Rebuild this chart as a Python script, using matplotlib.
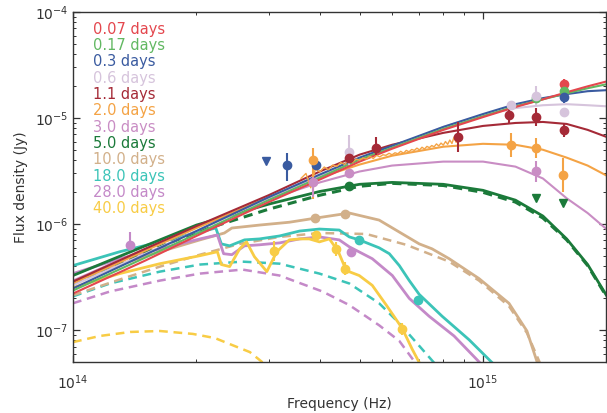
import numpy as np
import matplotlib
matplotlib.use('Agg')
import matplotlib.pyplot as plt
from matplotlib.ticker import NullFormatter

# ---------------- data (frequency in 1e14 Hz, flux in 1e-6 Jy) ----------------
labels = ['0.07 days', '0.17 days', '0.3 days', '0.6 days', '1.1 days', '2.0 days',
          '3.0 days', '5.0 days', '10.0 days', '18.0 days', '28.0 days', '40.0 days']
colors = ['#e4474e', '#62b862', '#3a5ba0', '#d6c4dc', '#a52a37', '#f4a345',
          '#c98dc4', '#1b7a3a', '#d2b08a', '#3cc4b8', '#c489c8', '#f8cc45']

nu_grid = [1.0, 1.5, 2.0, 3.0, 4.0, 5.0, 6.0, 8.0, 10.0, 12.0, 14.0, 16.0, 18.0, 20.0]
bb_007 = [0.221, 0.452, 0.772, 1.61, 2.63, 3.88, 5.13, 7.72, 10.2, 12.7, 15.0, 17.5, 19.9, 22.1]
bb_017 = [0.236, 0.482, 0.806, 1.68, 2.75, 4.05, 5.24, 7.89, 10.4, 12.9, 15.0, 17.1, 19.1, 20.8]
bb_03 = [0.247, 0.514, 0.859, 1.79, 2.93, 4.23, 5.47, 8.24, 10.9, 13.5, 15.4, 16.8, 17.9, 18.3]
bb_06 = [0.264, 0.525, 0.859, 1.75, 2.81, 4.05, 5.24, 8.24, 10.7, 12.4, 13.2, 13.5, 13.2, 12.9]
bb_11 = [0.287, 0.584, 0.957, 1.87, 3.13, 4.51, 5.59, 7.24, 8.42, 8.98, 9.18, 8.79, 7.73, 6.64]
bb_20 = [0.275, 0.560, 0.917, 1.79, 2.75, 3.64, 4.41, 5.36, 5.71, 5.59, 5.02, 4.23, 3.56, 2.87]
bb_30 = [0.293, 0.584, 0.937, 1.71, 2.47, 3.13, 3.56, 3.88, 3.88, 3.48, 2.69, 1.75, 1.27, 0.897]
bb_50 = [0.327, 0.623, 0.978, 1.54, 2.03, 2.37, 2.47, 2.37, 2.08, 1.68, 1.19, 0.724, 0.415, 0.213]
bb_50_dash = [0.275, 0.536, 0.841, 1.38, 1.87, 2.27, 2.42, 2.31, 1.99, 1.61, 1.14, 0.709, 0.406, 0.208]

tan_nu = [1.00, 1.30, 1.63, 2.04, 2.34, 2.44, 2.85, 3.37, 3.92, 4.72, 5.58, 6.99, 7.51, 8.27, 9.78, 11.57, 12.8, 13.6]
tan_f = [0.287, 0.415, 0.548, 0.709, 0.823, 0.917, 0.978, 1.04, 1.14, 1.27, 1.09, 0.650, 0.584, 0.471, 0.306, 0.179, 0.098, 0.048]
tan_d_nu = [1.00, 1.30, 1.63, 2.04, 2.55, 3.19, 3.99, 5.19, 6.50, 8.27, 9.78, 11.57, 12.8, 13.8]
tan_d_f = [0.213, 0.300, 0.397, 0.514, 0.650, 0.756, 0.823, 0.806, 0.637, 0.442, 0.293, 0.168, 0.094, 0.048]

teal_nu = [1.00, 1.30, 1.63, 2.04, 2.23, 2.30, 2.41, 2.62, 2.85, 3.19, 3.57, 3.99, 4.46, 4.72, 4.99,
           5.58, 5.91, 6.25, 6.61, 6.99, 7.95, 9.25, 10.6]
teal_f = [0.406, 0.548, 0.679, 0.841, 0.917, 0.650, 0.623, 0.709, 0.724, 0.772, 0.859, 0.897, 0.878,
          0.756, 0.709, 0.597, 0.525, 0.406, 0.293, 0.217, 0.135, 0.081, 0.048]
teal_d_nu = [1.00, 1.23, 1.63, 2.04, 2.59, 3.19, 3.99, 4.72, 5.58, 6.25, 6.99, 7.64]
teal_d_f = [0.208, 0.275, 0.356, 0.415, 0.442, 0.423, 0.341, 0.275, 0.179, 0.116, 0.071, 0.048]

mauve_nu = [1.00, 1.30, 1.63, 2.04, 2.25, 2.33, 2.44, 2.62, 2.85, 3.19, 3.57, 3.99, 4.46, 4.72,
            5.37, 6.01, 6.61, 7.39, 8.50, 9.89]
mauve_f = [0.341, 0.471, 0.584, 0.724, 0.789, 0.525, 0.514, 0.623, 0.637, 0.664, 0.724, 0.756,
           0.709, 0.610, 0.471, 0.327, 0.199, 0.135, 0.088, 0.048]
mauve_d_nu = [1.00, 1.23, 1.63, 2.04, 2.59, 3.19, 4.06, 4.72, 5.58, 6.25, 6.87]
mauve_d_f = [0.179, 0.231, 0.293, 0.341, 0.372, 0.327, 0.231, 0.172, 0.111, 0.079, 0.048]

yellow_nu = [1.00, 1.30, 1.63, 2.04, 2.25, 2.30, 2.41, 2.55, 2.65, 2.77, 2.97, 3.14, 3.37, 3.57,
             3.77, 3.99, 4.22, 4.39, 4.46, 4.64, 4.99, 5.37, 5.81, 6.35, 6.72, 7.02]
yellow_f = [0.252, 0.341, 0.423, 0.503, 0.548, 0.415, 0.397, 0.584, 0.679, 0.492, 0.356, 0.548,
            0.709, 0.724, 0.724, 0.679, 0.724, 0.584, 0.525, 0.364, 0.327, 0.264, 0.172, 0.104,
            0.066, 0.048]
yellow_d_nu = [1.00, 1.163, 1.38, 1.63, 1.96, 2.22, 2.45, 2.70, 2.93]
yellow_d_f = [0.077, 0.088, 0.096, 0.098, 0.092, 0.084, 0.072, 0.062, 0.048]

spec_nu = [3.6, 3.7, 3.8, 3.9, 4.0, 4.1, 4.2, 4.3, 4.4, 4.5, 4.6, 4.7, 4.8, 4.9, 5.0, 5.1, 5.2,
           5.3, 5.4, 5.5, 5.6, 5.7, 5.8, 5.9, 6.0, 6.1, 6.2, 6.3, 6.4, 6.5, 6.6, 6.7, 6.8, 6.9,
           7.0, 7.1, 7.2, 7.3, 7.4, 7.5, 7.6, 7.7, 7.8, 7.9, 8.0, 8.1, 8.2, 8.3, 8.4, 8.5, 8.6, 8.7]
spec_f = [2.7, 3.0, 2.2, 3.3, 3.1, 3.45, 3.25, 3.6, 3.5, 3.8, 3.65, 4.0, 3.8, 4.1, 4.0, 4.2,
          4.1, 4.35, 4.15, 4.45, 4.3, 4.5, 4.45, 4.65, 4.5, 4.7, 4.6, 4.85, 4.65, 4.95, 4.8,
          5.05, 4.95, 5.2, 5.0, 5.3, 5.1, 5.4, 5.25, 5.5, 5.35, 5.7, 5.45, 5.8, 5.55, 6.0,
          5.65, 6.2, 5.75, 6.6, 5.9, 6.0]

# photometric points: nu, flux, lower bound, upper bound
pts = {
    0: ([15.8], [20.8], [18.5], [23.5]),
    1: ([13.46, 15.8], [15.4, 17.9], [15.4, 17.9], [15.4, 17.9]),
    2: ([3.33, 3.92, 15.8], [3.64, 3.64, 15.7], [2.52, 3.3, 14.0], [4.71, 4.0, 17.5]),
    3: ([4.72, 11.7, 13.46, 15.8], [4.81, 13.2, 16.1, 11.4], [3.64, 12.0, 12.9, 10.5], [6.9, 14.5, 19.9, 12.5]),
    4: ([4.72, 5.49, 8.71, 11.6, 13.46, 15.8], [4.23, 5.24, 6.64, 10.7, 10.2, 7.73],
        [3.8, 4.5, 4.81, 9.0, 8.4, 6.6], [4.7, 6.6, 9.18, 12.7, 12.3, 9.0]),
    5: ([3.84, 11.7, 13.46, 15.7], [4.05, 5.59, 5.24, 2.93], [1.71, 4.3, 4.2, 2.0], [5.24, 7.2, 6.5, 4.2]),
    6: ([3.84, 4.72, 13.46], [2.47, 3.06, 3.13], [1.79, 3.06, 2.5], [2.8, 3.06, 3.9]),
    7: ([4.72], [2.27], [2.27], [2.27]),
    8: ([3.90, 4.62], [1.14, 1.24], [1.14, 1.24], [1.14, 1.24]),
    9: ([4.99, 6.95], [0.709, 0.191], [0.709, 0.191], [0.709, 0.191]),
    10: ([1.38, 4.77], [0.637, 0.548], [0.60, 0.548], [0.84, 0.548]),
    11: ([3.10, 3.92, 4.39, 4.62, 6.35], [0.560, 0.789, 0.584, 0.380, 0.102],
         [0.452, 0.72, 0.50, 0.33, 0.09], [0.695, 0.86, 0.68, 0.44, 0.116]),
}
limits = {
    2: ([2.95], [3.97]),
    7: ([13.46, 15.7], [1.75, 1.58]),
}

# ---------------- plotting ----------------
NU = 1e14
FL = 1e-6
fig = plt.figure(figsize=(6.07, 4.13), dpi=100)
ax = fig.add_axes([0.1203, 0.1235, 0.8787, 0.8475])
ax.set_xscale('log')
ax.set_yscale('log')


def arr(v, s):
    return np.asarray(v) * s


# late epochs (drawn first, below)
dash = (3.5, 2.3)
ax.plot(arr(yellow_d_nu, NU), arr(yellow_d_f, FL), color=colors[11], lw=1.8, dashes=dash)
ax.plot(arr(mauve_d_nu, NU), arr(mauve_d_f, FL), color=colors[10], lw=1.8, dashes=dash)
ax.plot(arr(teal_d_nu, NU), arr(teal_d_f, FL), color=colors[9], lw=1.8, dashes=dash)
ax.plot(arr(tan_d_nu, NU), arr(tan_d_f, FL), color=colors[8], lw=1.8, dashes=dash)
ax.plot(arr(tan_nu, NU), arr(tan_f, FL), color=colors[8], lw=2.0)
ax.plot(arr(teal_nu, NU), arr(teal_f, FL), color=colors[9], lw=2.0)
ax.plot(arr(mauve_nu, NU), arr(mauve_f, FL), color=colors[10], lw=2.0)
ax.plot(arr(yellow_nu, NU), arr(yellow_f, FL), color=colors[11], lw=2.0)

# early epochs
early = [bb_007, bb_017, bb_03, bb_06, bb_11, bb_20, bb_30, bb_50]
ax.plot(arr(nu_grid, NU), arr(bb_50_dash, FL), color=colors[7], lw=2.2, dashes=(3, 2))
for i in range(7, -1, -1):
    ax.plot(arr(nu_grid, NU), arr(early[i], FL), color=colors[i], lw=1.5 if i != 7 else 2.0)

ax.plot(arr(spec_nu, NU), arr(spec_f, FL), color=colors[5], lw=1.0)

for i, (n, f, lo, hi) in pts.items():
    n = arr(n, NU); f = arr(f, FL); lo = arr(lo, FL); hi = arr(hi, FL)
    ax.errorbar(n, f, yerr=[f - lo, hi - f], fmt='o', color=colors[i], ms=6,
                elinewidth=1.5, ecolor=colors[i], capsize=0, zorder=5)
for i, (n, f) in limits.items():
    ax.plot(arr(n, NU), arr(f, FL), 'v', color=colors[i], ms=6, zorder=5)

ax.set_xlim(1e14, 2e15)
ax.set_ylim(5e-8, 1e-4)

for sp in ax.spines.values():
    sp.set_color('#333333')
    sp.set_linewidth(1.0)
ax.tick_params(which='both', direction='in', top=True, right=True, colors='#333333',
               labelcolor='#333333', labelsize=10)
ax.tick_params(which='major', length=5, width=0.9)
ax.tick_params(which='minor', length=2.5, width=0.7)
ax.xaxis.set_minor_formatter(NullFormatter())
ax.yaxis.set_minor_formatter(NullFormatter())
ax.tick_params(axis='x', pad=8)

ax.set_xlabel('Frequency (Hz)', fontsize=10, color='#333333', labelpad=4)
ax.set_ylabel('Flux density (Jy)', fontsize=10, color='#333333', labelpad=5)

for k, (lab, c) in enumerate(zip(labels, colors)):
    ax.text(0.038, 0.951 - k * 0.0467, lab, transform=ax.transAxes, color=c,
            fontsize=10.5, va='center', ha='left')

fig.savefig('out.png', dpi=100)
